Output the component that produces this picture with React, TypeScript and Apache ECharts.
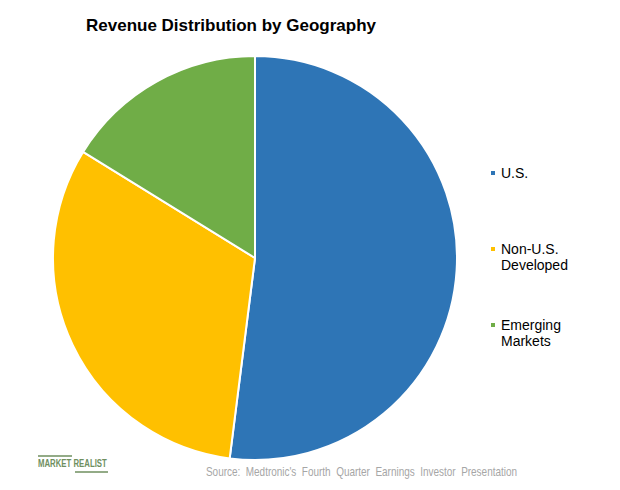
import React, { useEffect, useRef } from "react";
import * as echarts from "echarts";

const categories = ["U.S.", "Non-U.S.\nDeveloped", "Emerging\nMarkets"];
const shares = [52.0, 31.8, 16.2];
const colors = ["#2E75B6", "#FFC000", "#70AD47"];
const legendTops = [173, 249, 325];

const titleText = "Revenue Distribution by Geography";
const sourceText = "Source:  Medtronic's  Fourth  Quarter  Earnings  Investor  Presentation";

export default function App() {
  const ref = useRef<HTMLDivElement>(null);
  useEffect(() => {
    if (!ref.current) return;
    const chart = echarts.init(ref.current, null, { renderer: "svg" });
    const font = "'Liberation Sans', Arial, sans-serif";
    const legendGraphics: any[] = [];
    categories.forEach((c, i) => {
      legendGraphics.push({
        type: "rect",
        shape: { x: 491, y: legendTops[i] - 2, width: 4, height: 4 },
        style: { fill: colors[i] },
      });
      legendGraphics.push({
        type: "text",
        x: 501,
        y: legendTops[i] - 8,
        style: {
          text: c,
          fill: "#000",
          font: `14px ${font}`,
          lineHeight: 16,
          textVerticalAlign: "top",
        },
      });
    });
    chart.setOption({
      animation: false,
      backgroundColor: "#fff",
      graphic: [
        {
          type: "text",
          x: 231,
          y: 25,
          style: {
            text: titleText,
            fill: "#000",
            font: `bold 17px ${font}`,
            textAlign: "center",
            textVerticalAlign: "middle",
          },
        },
        ...legendGraphics,
        {
          type: "text",
          x: 517,
          y: 472,
          scaleX: 0.83,
          style: {
            text: sourceText,
            fill: "#A6A6A6",
            font: `12px ${font}`,
            textAlign: "right",
            textVerticalAlign: "middle",
          },
        },
        {
          type: "text",
          x: 38,
          y: 464,
          scaleX: 0.78,
          style: {
            text: "MARKET REALIST",
            fill: "#6F8F5F",
            font: `bold 10px ${font}`,
            textVerticalAlign: "middle",
          },
        },
        {
          type: "line",
          shape: { x1: 38, y1: 456, x2: 72, y2: 456 },
          style: { stroke: "#6F8F5F", lineWidth: 1.5 },
        },
        {
          type: "line",
          shape: { x1: 75, y1: 472, x2: 108, y2: 472 },
          style: { stroke: "#6F8F5F", lineWidth: 1.5 },
        },
      ],
      series: [
        {
          type: "pie",
          center: [255, 258],
          radius: [0, 202],
          startAngle: 90,
          clockwise: true,
          label: { show: false },
          labelLine: { show: false },
          silent: true,
          itemStyle: { borderColor: "#fff", borderWidth: 2 },
          data: categories.map((c, i) => ({
            name: c,
            value: shares[i],
            itemStyle: { color: colors[i] },
          })),
        },
      ],
    });
    return () => chart.dispose();
  }, []);
  return <div ref={ref} style={{ width: 620, height: 490, margin: -8 }} />;
}
